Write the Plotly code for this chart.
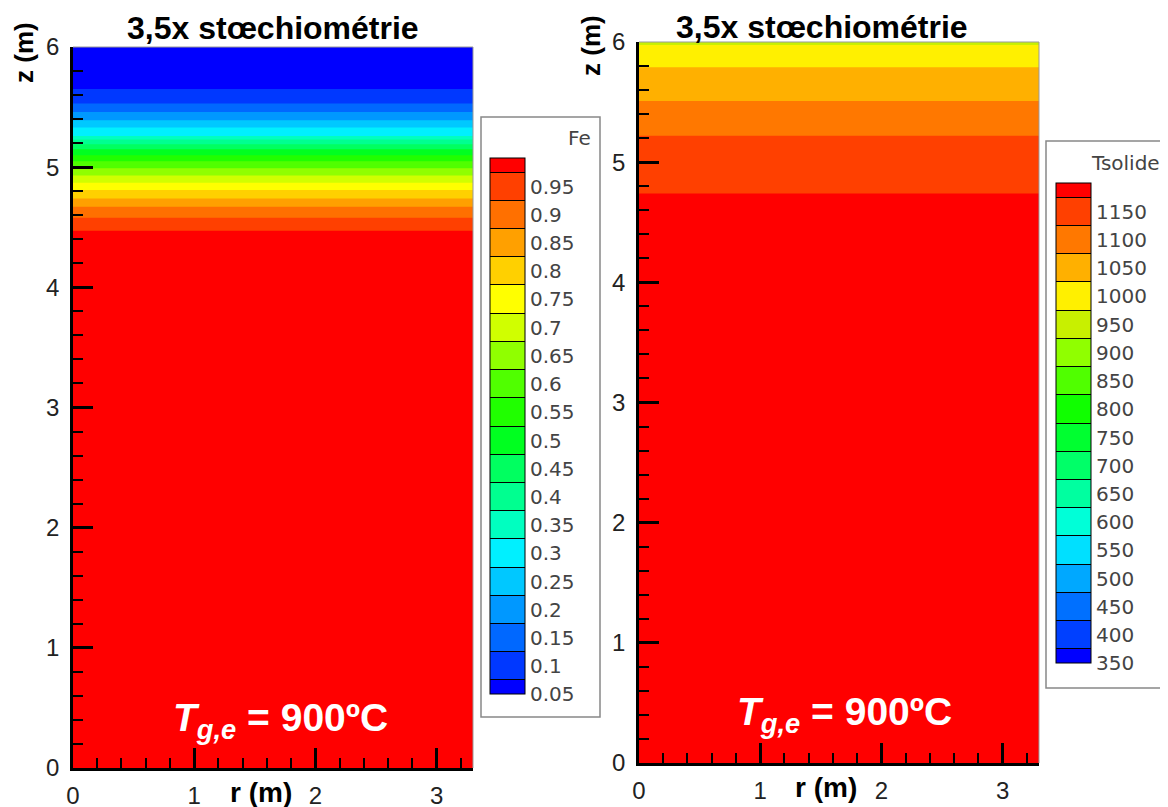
import plotly.graph_objects as go

W, H = 1168, 807
OFF = 8  # page body margin

def px(x):
    return (x - OFF) / W

def py(y):
    return 1 - (y - OFF) / H

# radial positions (m) - field is uniform along r
r = [0.0, 3.3]

# Fe fraction profile along z (read at the band edges)
z_fe = [0.0, 4.47, 4.58, 4.67, 4.74, 4.81, 4.87, 4.93, 4.99, 5.05, 5.10,
        5.15, 5.19, 5.23, 5.26, 5.33, 5.39, 5.46, 5.53, 5.65, 6.0]
fe = [1.0, 0.95, 0.90, 0.85, 0.80, 0.75, 0.70, 0.65, 0.60, 0.55, 0.50,
      0.45, 0.40, 0.35, 0.30, 0.25, 0.20, 0.15, 0.10, 0.05, 0.01]

# solid temperature profile along z
z_ts = [0.0, 4.74, 5.22, 5.51, 5.79, 5.975, 6.0]
ts = [1175, 1150, 1100, 1050, 1000, 950, 915]

fe_levels = [0.05, 0.1, 0.15, 0.2, 0.25, 0.3, 0.35, 0.4, 0.45, 0.5,
             0.55, 0.6, 0.65, 0.7, 0.75, 0.8, 0.85, 0.9, 0.95]
fe_labels = ['0.05', '0.1', '0.15', '0.2', '0.25', '0.3', '0.35', '0.4', '0.45', '0.5',
             '0.55', '0.6', '0.65', '0.7', '0.75', '0.8', '0.85', '0.9', '0.95']
ts_levels = [350, 400, 450, 500, 550, 600, 650, 700, 750, 800,
             850, 900, 950, 1000, 1050, 1100, 1150]

fe_colors = ['#0000ff', '#0038ff', '#0068ff', '#0098ff', '#00c8ff', '#00f0ff',
             '#00ffc0', '#00ff90', '#00ff60', '#00ff20', '#20ff00', '#50ff00',
             '#90ff00', '#d0ff00', '#ffff00', '#ffd000', '#ffa000', '#ff7000',
             '#ff4000', '#ff0000']
ts_colors = ['#0000ff', '#0040ff', '#0070ff', '#00a8ff', '#00e0ff', '#00ffd8',
             '#00ffa0', '#00ff68', '#00ff30', '#10ff00', '#50ff00', '#90ff00',
             '#c8f000', '#fff000', '#ffb000', '#ff7800', '#ff4000', '#ff0000']

LABEL_FONT = dict(family='DejaVu Sans', size=20, color='#444')


def scale(colors):
    n = len(colors) - 1
    return [[i / n, c] for i, c in enumerate(colors)]


def colorbar(levels, labels, x, y, length):
    return dict(
        tickmode='array', tickvals=levels, ticktext=labels,
        ticks='inside', ticklen=35, tickwidth=1, tickcolor='black',
        ticklabelposition='outside bottom',
        tickfont=LABEL_FONT,
        outlinecolor='black', outlinewidth=1,
        thickness=35, thicknessmode='pixels',
        len=length, lenmode='pixels',
        x=x, xanchor='left', xpad=0, y=y, yanchor='middle', ypad=0,
    )


fig = go.Figure()

fig.add_trace(go.Contour(
    x=r, y=z_fe, z=[[v] * len(r) for v in fe],
    contours=dict(start=0.05, end=0.95, size=0.05, coloring='fill', showlines=False),
    line=dict(width=0),
    colorscale=scale(fe_colors),
    colorbar=colorbar(fe_levels, fe_labels, px(490), py(426), 536),
    hoverinfo='skip',
    xaxis='x', yaxis='y',
))

fig.add_trace(go.Contour(
    x=r, y=z_ts, z=[[v] * len(r) for v in ts],
    contours=dict(start=350, end=1150, size=50, coloring='fill', showlines=False),
    line=dict(width=0),
    colorscale=scale(ts_colors),
    colorbar=colorbar(ts_levels, [str(v) for v in ts_levels], px(1056), py(423), 480),
    hoverinfo='skip',
    xaxis='x2', yaxis='y2',
))

tickfont = dict(family='Liberation Sans, Arial', size=24, color='#222')
minor = dict(dtick=0.2, ticks='inside', ticklen=10, tickwidth=1.5, tickcolor='black')

xax = dict(range=[0, 3.3], dtick=1, ticks='inside', ticklen=20, tickwidth=2.5,
           tickcolor='black', showline=True, linecolor='black', linewidth=2.5,
           showgrid=False, zeroline=False, tickfont=tickfont, minor=minor,
           ticklabelstandoff=4)
yax = dict(range=[0, 6], dtick=1, ticks='inside', ticklen=20, tickwidth=2.5,
           tickcolor='black', showline=True, linecolor='black', linewidth=2.5,
           showgrid=False, zeroline=False, tickfont=tickfont, minor=minor,
           ticklabelstandoff=6)

fig.update_layout(
    width=W, height=H,
    margin=dict(l=0, r=0, t=0, b=0, autoexpand=False),
    paper_bgcolor='white', plot_bgcolor='white',
    showlegend=False,
    xaxis=dict(xax, domain=[px(73), px(473)], anchor='y'),
    yaxis=dict(yax, domain=[py(768), py(47)], anchor='x'),
    xaxis2=dict(xax, domain=[px(639), px(1039)], anchor='y2'),
    yaxis2=dict(yax, domain=[py(763), py(42)], anchor='x2'),
)

# thin grey frame on top and right of each plot, legend boxes
shapes = []
for xr, yr in [('x', 'y'), ('x2', 'y2')]:
    shapes.append(dict(type='line', xref=xr + ' domain', yref=yr + ' domain',
                       x0=0, x1=1, y0=1, y1=1, line=dict(color='#999', width=1)))
    shapes.append(dict(type='line', xref=xr + ' domain', yref=yr + ' domain',
                       x0=1, x1=1, y0=0, y1=1, line=dict(color='#999', width=1)))
for x0, x1, y0, y1 in [(481, 600, 117, 717), (1046, 1190, 141, 688)]:
    shapes.append(dict(type='rect', xref='paper', yref='paper',
                       x0=px(x0), x1=px(x1), y0=py(y1), y1=py(y0),
                       line=dict(color='#888', width=1.5), layer='below'))
fig.update_layout(shapes=shapes)

bold = dict(family='Liberation Sans, Arial', color='black')
white = dict(family='Liberation Sans, Arial', size=39, color='white')
annotations = [
    dict(text='<b>3,5x stœchiométrie</b>', x=px(273), y=py(28), font=dict(bold, size=32)),
    dict(text='<b>3,5x stœchiométrie</b>', x=px(822), y=py(27), font=dict(bold, size=32)),
    dict(text='<b>z (m)</b>', x=px(24), y=py(53), textangle=-90, font=dict(bold, size=26)),
    dict(text='<b>z (m)</b>', x=px(591), y=py(46), textangle=-90, font=dict(bold, size=26)),
    dict(text='<b>r (m)</b>', x=px(261), y=py(792), font=dict(bold, size=28)),
    dict(text='<b>r (m)</b>', x=px(826), y=py(787), font=dict(bold, size=28)),
    dict(text='<b><i>T</i><sub><i>g,e</i></sub> = 900ºC</b>', x=px(280), y=py(720), font=white),
    dict(text='<b><i>T</i><sub><i>g,e</i></sub> = 900ºC</b>', x=px(845), y=py(714), font=white),
    dict(text='Fe', x=px(593), y=py(138), xanchor='right', font=LABEL_FONT),
    dict(text='Tsolide', x=px(1162), y=py(163), xanchor='right', font=LABEL_FONT),
]
for a in annotations:
    a.setdefault('xref', 'paper')
    a.setdefault('yref', 'paper')
    a.setdefault('showarrow', False)
    a.setdefault('xanchor', 'center')
    a.setdefault('yanchor', 'middle')
fig.update_layout(annotations=annotations)

fig.write_html("out.html")
